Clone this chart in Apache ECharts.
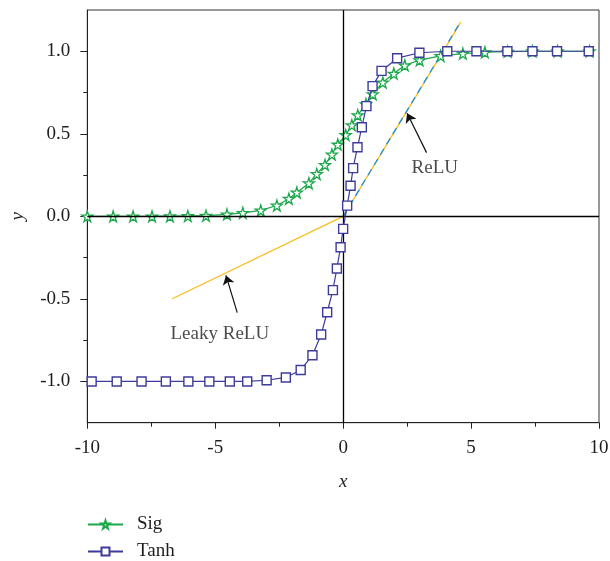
<!DOCTYPE html>
<html>
<head>
<meta charset="utf-8">
<script src="https://cdn.jsdelivr.net/npm/echarts@6/dist/echarts.min.js"></script>
<style>html,body{margin:0;padding:0;background:#fff}#c{width:610px;height:561px}</style>
</head>
<body>
<div id="c"></div>
<script>
// ---- data ----
const sigX = [-10, -8.99, -8.21, -7.47, -6.77, -6.07, -5.36, -4.54, -3.92, -3.22, -2.59, -2.12, -1.81, -1.34, -1.03, -0.71, -0.44, -0.21, 0.1, 0.34, 0.57, 0.89, 1.16, 1.55, 1.98, 2.41, 2.99, 3.81, 4.68, 5.54, 6.43, 7.4, 8.38, 9.63];
const sigY = [0.0, 0.0, 0.0, 0.0, 0.001, 0.002, 0.004, 0.012, 0.021, 0.036, 0.066, 0.107, 0.145, 0.201, 0.257, 0.312, 0.375, 0.435, 0.493, 0.553, 0.613, 0.68, 0.74, 0.811, 0.865, 0.915, 0.946, 0.972, 0.986, 0.994, 0.998, 1.0, 1.0, 1.0];
const tanhX = [-9.83, -8.85, -7.88, -6.93, -6.05, -5.23, -4.43, -3.75, -2.99, -2.24, -1.66, -1.2, -0.86, -0.625, -0.4, -0.246, -0.1, 0.0, 0.156, 0.29, 0.39, 0.56, 0.73, 0.91, 1.15, 1.5, 2.11, 2.98, 4.07, 5.21, 6.42, 7.4, 8.36, 9.6];
const tanhY = [-1.0, -1.0, -1.0, -1.0, -1.0, -1.0, -1.0, -1.0, -0.993, -0.976, -0.931, -0.841, -0.716, -0.581, -0.447, -0.316, -0.187, -0.076, 0.065, 0.185, 0.292, 0.419, 0.54, 0.668, 0.789, 0.881, 0.958, 0.991, 1.0, 1.0, 1.0, 1.0, 1.0, 1.0];
const reluX = [0, 4.53];
const reluY = [0, 1.163];
const leakyX = [-6.68, 0, 4.6];
const leakyY = [-0.499, 0, 1.177];
const xTicks = [-10, -5, 0, 5, 10];
const yTicks = [-1.0, -0.5, 0.0, 0.5, 1.0];
const yMinorTicks = [-0.75, -0.25, 0.25, 0.75];
const annoText = ['ReLU', 'Leaky ReLU'];
const annoPos = [[3.58, 0.292], [-4.82, -0.714]];
const arrows = [[[3.26, 0.386], [2.5, 0.624]], [[-4.14, -0.583], [-4.58, -0.358]]];

const zip = (a, b) => a.map((v, i) => [v, b[i]]);
const FONT = 'Liberation Serif';
const FS = 19;
const STAR = 'path://M50,0 L61,35 L98,35 L68,57 L79,91 L50,70 L21,91 L32,57 L2,35 L39,35 Z';
const GREEN = '#1aa84a', BLUE = '#3d3b9c', YELLOW = '#fbbd1e', RBLUE = '#1b8fd8';
const TXT = '#1e1c1d';

const chart = echarts.init(document.getElementById('c'), null, {renderer: 'canvas'});
chart.setOption({
  animation: false,
  backgroundColor: '#fff',
  grid: {left: 87.3, right: 11, top: 10, bottom: 138.3, show: true, borderColor: '#333', borderWidth: 1, containLabel: false, outerBoundsMode: 'none'},
  legend: {
    data: ['Sig', 'Tanh'], orient: 'vertical', left: 87, top: 515, padding: 0, itemWidth: 35, itemHeight: 10, itemGap: 8,
    textStyle: {fontFamily: FONT, fontSize: FS, color: TXT, padding: [0, 0, 0, 9]}
  },
  xAxis: {
    type: 'value', min: -10, max: 10, interval: 5,
    name: 'x', nameLocation: 'middle', nameGap: 50, nameMoveOverlap: false,
    nameTextStyle: {fontFamily: FONT, fontSize: FS, fontStyle: 'italic', color: TXT},
    axisLine: {onZero: false, lineStyle: {color: '#222', width: 1}},
    axisTick: {length: 6, lineStyle: {color: '#222'}},
    minorTick: {show: true, splitNumber: 2, length: 4, lineStyle: {color: '#222'}},
    splitLine: {show: false},
    axisLabel: {fontFamily: FONT, fontSize: FS, color: TXT, margin: 16, formatter: v => xTicks.includes(v) ? String(v) : ''}
  },
  yAxis: [{
    type: 'value', min: -1.25, max: 1.25,
    name: 'y', nameLocation: 'middle', nameGap: 60, nameMoveOverlap: false,
    nameTextStyle: {fontFamily: FONT, fontSize: FS, fontStyle: 'italic', color: TXT},
    axisLine: {onZero: false, lineStyle: {color: '#222', width: 1}},
    axisTick: {length: 7, customValues: yTicks, lineStyle: {color: '#222'}},
    splitLine: {show: false},
    axisLabel: {fontFamily: FONT, fontSize: FS, color: TXT, margin: 17, customValues: yTicks, formatter: v => v.toFixed(1)}
  }, {
    type: 'value', min: -1.25, max: 1.25, position: 'left', offset: 0,
    axisLine: {show: false, onZero: false},
    axisTick: {show: true, length: 4, customValues: yMinorTicks, lineStyle: {color: '#222'}},
    axisLabel: {show: false}, splitLine: {show: false}
  }],
  series: [
    {
      name: 'Leaky ReLU', type: 'line', data: zip(leakyX, leakyY), symbol: 'none',
      lineStyle: {color: YELLOW, width: 1.3}, z: 2,
      markLine: {
        silent: true, symbol: 'none', label: {show: false},
        lineStyle: {color: '#000', width: 1.3, type: 'solid'},
        data: [{xAxis: 0}, {yAxis: 0}]
      }
    },
    {
      name: 'ReLU', type: 'line', data: zip(reluX, reluY), symbol: 'none',
      lineStyle: {color: RBLUE, width: 1.3, type: [7, 5]}, z: 3
    },
    {
      name: 'Sig', type: 'line', data: zip(sigX, sigY), symbol: STAR, symbolSize: 11,
      itemStyle: {color: '#fff', borderColor: GREEN, borderWidth: 1.3},
      lineStyle: {color: GREEN, width: 1.2}, z: 4
    },
    {
      name: 'Tanh', type: 'line', data: zip(tanhX, tanhY), symbol: 'rect', symbolSize: 9,
      itemStyle: {color: '#fff', borderColor: BLUE, borderWidth: 1.4},
      lineStyle: {color: BLUE, width: 1.2}, z: 5
    },
    {
      name: 'arrows', type: 'lines', coordinateSystem: 'cartesian2d',
      symbol: ['none', 'arrow'], symbolSize: 9,
      lineStyle: {color: '#111', width: 1.2, opacity: 1},
      data: arrows.map(c => ({coords: c})), z: 6
    },
    {
      name: 'labels', type: 'scatter', symbolSize: 0, z: 6,
      data: annoPos.map((p, i) => ({value: p, name: annoText[i]})),
      label: {show: true, position: 'inside', formatter: p => p.name, fontFamily: FONT, fontSize: FS, color: TXT}
    }
  ]
});
</script>
</body>
</html>
